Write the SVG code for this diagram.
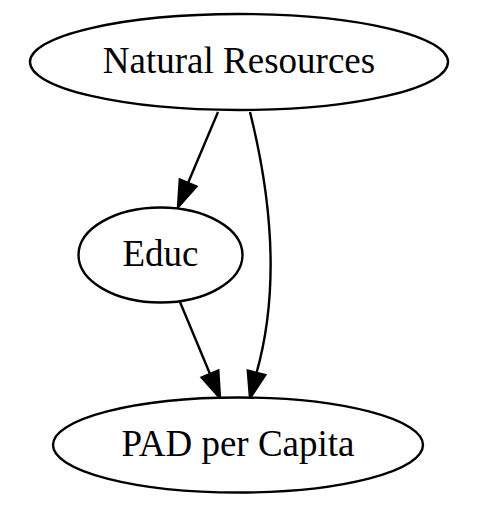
<svg xmlns="http://www.w3.org/2000/svg" width="480" height="518" viewBox="0 0 480 518">
<style>
.node ellipse{fill:#fff;stroke:#000;stroke-width:2.4}
.node text{font-family:"Liberation Serif","Times New Roman",serif;font-size:37px;fill:#000;text-anchor:middle}
.edge path{fill:none;stroke:#000;stroke-width:2.4}
.edge polygon{fill:#000;stroke:#000;stroke-width:2.4}
</style>
<rect width="480" height="518" fill="#fff"/>
<g id="edges">
<g class="edge"><path d="M218,112 L188,183"/><polygon points="196.4,186.5 178,207 179.8,179.5"/></g>
<g class="edge"><path d="M250,112 C272,200 280,290 256.5,373"/><polygon points="265.2,375.1 250,398 247.8,370.6"/></g>
<g class="edge"><path d="M180,302 L210,374"/><polygon points="218.3,370.5 220,398 201.7,377.5"/></g>
</g>
<g id="natural_resources" class="node"><ellipse cx="239" cy="62" rx="209" ry="48"/><text x="239" y="73">Natural Resources</text></g>
<g id="educ" class="node"><ellipse cx="160.5" cy="255" rx="82" ry="47.5"/><text x="160.5" y="266">Educ</text></g>
<g id="pad_per_capita" class="node"><ellipse cx="238" cy="445" rx="185" ry="47.5"/><text x="238" y="456">PAD per Capita</text></g>
</svg>
